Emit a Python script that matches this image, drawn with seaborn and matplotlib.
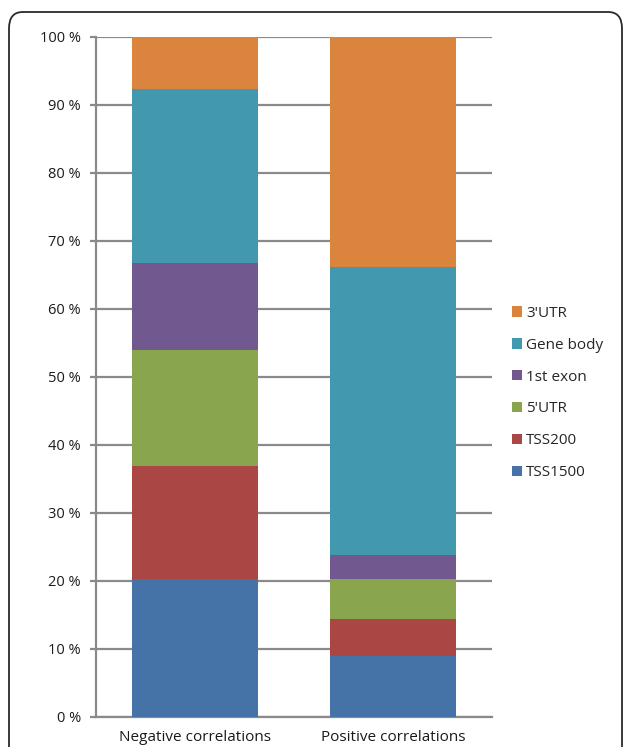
import matplotlib
matplotlib.use("Agg")
import matplotlib.pyplot as plt
from matplotlib.patches import FancyBboxPatch
import numpy as np
import seaborn as sns

# Share of correlated CpG sites per gene region (%)
categories = ["Negative correlations", "Positive correlations"]
regions = ["TSS1500", "TSS200", "5'UTR", "1st exon", "Gene body", "3'UTR"]
tss1500 = [20.3, 9.0]
tss200 = [16.6, 5.35]
utr5 = [17.0, 6.0]
first_exon = [12.8, 3.45]
gene_body = [25.7, 42.4]
utr3 = [7.6, 33.8]
yticks = [0, 10, 20, 30, 40, 50, 60, 70, 80, 90, 100]

colors = ["#4572A7", "#AA4643", "#89A54E", "#71588F", "#4198AF", "#DB843D"]
series = [tss1500, tss200, utr5, first_exon, gene_body, utr3]

sns.set_theme(style="white")
plt.rcParams["font.family"] = ["Open Sans", "DejaVu Sans"]

W, H = 627, 747
fig = plt.figure(figsize=(W / 100, H / 100), dpi=100)
ax = fig.add_axes([96 / W, 1 - 717 / H, 396 / W, 680 / H])

grid_col = "#8a8a8a"
bottom = np.zeros(len(categories))
for vals, col, name in zip(series, colors, regions):
    sns.barplot(x=categories, y=vals, bottom=bottom, color=col, width=0.636,
                saturation=1, linewidth=0, edgecolor="none", ax=ax,
                zorder=3, label=name)
    bottom = bottom + np.array(vals)

ax.set_xlim(-0.5, 1.5)
ax.set_ylim(0, 100)
ax.set_yticks(yticks)
ax.set_yticklabels([f"{v} %" for v in yticks])
ax.yaxis.grid(True, color=grid_col, linewidth=1.6, zorder=0)
ax.set_axisbelow(True)
for s in ["top", "right"]:
    ax.spines[s].set_visible(False)
for s in ["left", "bottom"]:
    ax.spines[s].set_color(grid_col)
    ax.spines[s].set_linewidth(1.6)
ax.tick_params(axis="y", length=4.3, width=1.6, color=grid_col, left=True,
               labelsize=10.5, labelcolor="#1a1a1a", pad=6.5)
ax.tick_params(axis="x", length=0, labelsize=11, labelcolor="#1a1a1a", pad=9.5)
ax.set_xlabel("")
ax.set_ylabel("")

# Legend, top entry is the last stacked segment
handles, labels = ax.get_legend_handles_labels()
ax.legend(handles[::-1], labels[::-1], loc="upper left",
          bbox_to_anchor=(512 / W, 1 - 306 / H), bbox_transform=fig.transFigure,
          frameon=False, fontsize=11, handlelength=0.66, handleheight=0.66,
          handletextpad=0.25, labelspacing=1.1, borderaxespad=0,
          borderpad=0)

# Rounded outer frame, running off the bottom edge
frame = FancyBboxPatch((9 / W, -30 / H), 613 / W, (H - 12 + 30) / H,
                       boxstyle="round,pad=0,rounding_size=0.022",
                       transform=fig.transFigure, fill=False,
                       edgecolor="#2a2a2a", linewidth=1.3, clip_on=False)
fig.patches.append(frame)

fig.savefig("out.png", dpi=100)
